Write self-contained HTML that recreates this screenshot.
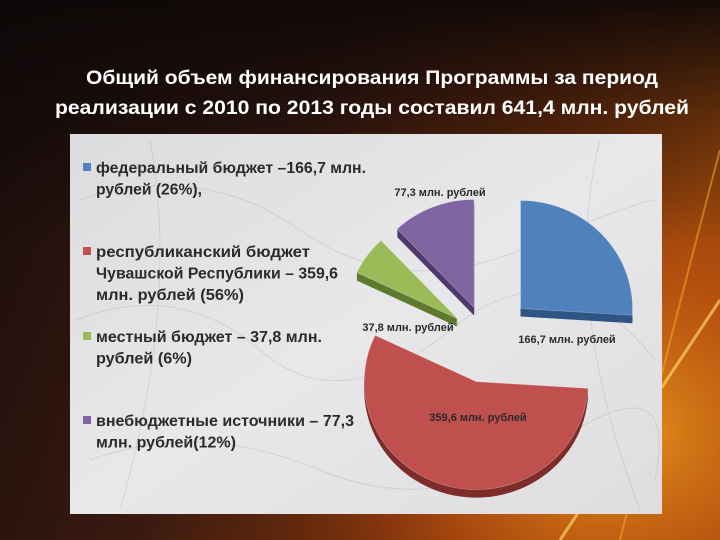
<!DOCTYPE html>
<html><head><meta charset="utf-8">
<style>
html,body{margin:0;padding:0;width:720px;height:540px;overflow:hidden;background:#1a0f0e;}
svg{display:block;}
text{font-family:"Liberation Sans","DejaVu Sans",sans-serif;}
</style></head>
<body>
<svg id="chart" width="720" height="540" viewBox="0 0 720 540" xmlns="http://www.w3.org/2000/svg">
<defs>
<linearGradient id="bg" x1="0" y1="0" x2="1" y2="0.3">
<stop offset="0" stop-color="#160c0c"/>
<stop offset="0.45" stop-color="#3a1a10"/>
<stop offset="0.75" stop-color="#7a320c"/>
<stop offset="1" stop-color="#b8560c"/>
</linearGradient>
<radialGradient id="glow" cx="0.85" cy="0.8" r="0.6">
<stop offset="0" stop-color="#f0a020" stop-opacity="0.9"/>
<stop offset="0.5" stop-color="#b04810" stop-opacity="0.5"/>
<stop offset="1" stop-color="#200a08" stop-opacity="0"/>
</radialGradient>
<linearGradient id="topdark" x1="0" y1="0" x2="0" y2="1">
<stop offset="0" stop-color="#0e0808" stop-opacity="0.95"/>
<stop offset="0.45" stop-color="#0e0808" stop-opacity="0"/>
</linearGradient>
<linearGradient id="marble" x1="0" y1="0" x2="1" y2="1">
<stop offset="0" stop-color="#dcdcdf"/>
<stop offset="0.5" stop-color="#e8e8ea"/>
<stop offset="1" stop-color="#dedee0"/>
</linearGradient>
</defs>
<rect width="720" height="540" fill="url(#bg)"/>
<rect width="720" height="540" fill="url(#glow)"/>
<rect width="720" height="540" fill="url(#topdark)"/>
<path d="M720 300 Q640 420 560 540" stroke="#ffd060" stroke-width="3" fill="none" opacity="0.7"/>
<path d="M720 150 Q680 300 620 540" stroke="#ffb030" stroke-width="2" fill="none" opacity="0.5"/>

<text x="372" y="84" fill="#ffffff" font-size="19" font-weight="bold" text-anchor="middle" textLength="572" lengthAdjust="spacingAndGlyphs">Общий объем финансирования Программы за период</text>
<text x="372" y="114" fill="#ffffff" font-size="19" font-weight="bold" text-anchor="middle" textLength="634" lengthAdjust="spacingAndGlyphs">реализации с  2010 по 2013 годы составил 641,4 млн. рублей</text>

<rect x="70" y="134" width="592" height="380" fill="url(#marble)"/>
<g id="marbleVeins" opacity="0.25" stroke="#9a9aa0" stroke-width="1" fill="none">
<path d="M80 200 Q200 160 300 230 T520 250 T655 200"/>
<path d="M75 320 Q180 280 260 350 T450 330 T655 360"/>
<path d="M90 460 Q200 420 320 470 T560 440 T655 480"/>
<path d="M150 140 Q180 300 120 510"/>
<path d="M600 140 Q560 300 640 510"/>
</g>

<g id="legend"></g>
<g id="pie"></g>
<g id="labels"></g>

<script>
const categories = ["федеральный бюджет","республиканский бюджет","местный бюджет","внебюджетные источники"];
const values = [166.7, 359.6, 37.8, 77.3];
const valueLabels = ["166,7 млн. рублей","359,6 млн. рублей","37,8 млн. рублей","77,3  млн. рублей"];
const legendLines = [
  ["федеральный бюджет –166,7 млн.","рублей (26%),"],
  ["республиканский бюджет","Чувашской Республики – 359,6","млн. рублей (56%)"],
  ["местный бюджет – 37,8 млн.","рублей (6%)"],
  ["внебюджетные источники – 77,3","млн. рублей(12%)"]
];

const NS = "http://www.w3.org/2000/svg";
const colors = ["#4f81bd","#c0504d","#9bbb59","#8064a2"];
const sideColors = ["#2f5584","#7e2c2a","#5e7a2e","#4d3a6a"];
const explode = [46, 43, 36, 35];
const cx = 487, cy = 340, rx = 112, ry = 108, depth = 8;
const total = values.reduce((a,b)=>a+b,0);

function mk(tag, attrs, parent){
  const e = document.createElementNS(NS, tag);
  for (const k in attrs) e.setAttribute(k, attrs[k]);
  parent.appendChild(e);
  return e;
}
function pt(x0,y0,a){ return [x0 + rx*Math.sin(a), y0 - ry*Math.cos(a)]; }
function slicePath(x0,y0,a0,a1){
  const p0 = pt(x0,y0,a0), p1 = pt(x0,y0,a1);
  const large = (a1-a0) > Math.PI ? 1 : 0;
  return `M${x0},${y0} L${p0[0]},${p0[1]} A${rx},${ry} 0 ${large} 1 ${p1[0]},${p1[1]} Z`;
}

const pie = document.getElementById("pie");
const labels = document.getElementById("labels");
let acc = 0;
const geo = [];
values.forEach((v,i)=>{
  const a0 = acc/total*2*Math.PI;
  acc += v;
  const a1 = acc/total*2*Math.PI;
  const mid = (a0+a1)/2;
  const ox = cx + explode[i]*Math.sin(mid);
  const oy = cy - explode[i]*Math.cos(mid);
  geo.push({a0,a1,mid,ox,oy});
});
geo.forEach((g,i)=>{
  for (let d=depth; d>0; d--){
    const s = mk("path",{d:slicePath(g.ox,g.oy+d,g.a0,g.a1),fill:sideColors[i]},pie);
    
    
  }
});
geo.forEach((g,i)=>{
  const s = mk("path",{d:slicePath(g.ox,g.oy,g.a0,g.a1),fill:colors[i],stroke:"#ffffff","stroke-opacity":"0.3","stroke-width":"0.8"},pie);
  
  
});
const labelPos = [[567,343],[478,421],[408,331],[440,196]];
geo.forEach((g,i)=>{
  const t = mk("text",{x:labelPos[i][0],y:labelPos[i][1],"text-anchor":"middle","font-size":"11","font-weight":"bold",fill:"#2a2a2a"},labels);
  t.textContent = valueLabels[i];
  
  
});

const legend = document.getElementById("legend");
const legendTops = [173, 257, 342, 426];
const lineWidths = [[270,106],[214,242,148],[226,96],[258,140]];
legendLines.forEach((lines,i)=>{
  const sq = mk("rect",{x:83,y:legendTops[i]-10,width:8,height:8,fill:colors[i]},legend);
  
  
  lines.forEach((ln,j)=>{
    const t = mk("text",{x:96,y:legendTops[i]+j*21.5,"font-size":"16","font-weight":"bold",fill:"#2b2b2b",textLength:lineWidths[i][j],lengthAdjust:"spacingAndGlyphs"},legend);
    t.textContent = ln;
    
    
  });
});
</script>
</svg>
</body></html>
